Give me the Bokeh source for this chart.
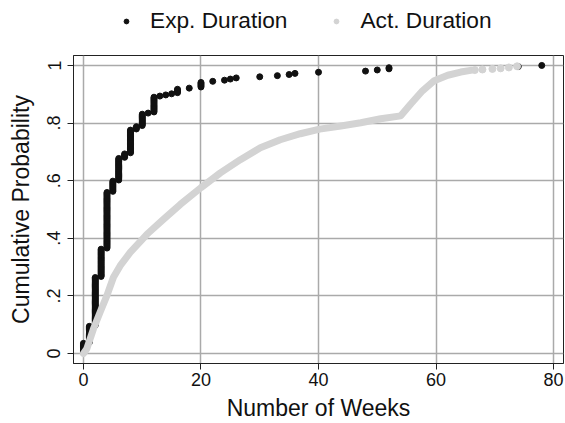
import numpy as np
from bokeh.plotting import figure
from bokeh.layouts import column
from bokeh.models import Range1d, FixedTicker, Legend, LegendItem
from bokeh.embed import file_html
from bokeh.resources import INLINE

# Expected duration: distinct week values and number of observations at each
exp_weeks = [0, 1, 2, 3, 4, 5, 6, 7, 8, 9, 10, 11, 12, 13, 14, 15, 16, 18, 20,
             22, 24, 25, 26, 30, 33, 35, 36, 40, 48, 50, 52, 74, 78]
exp_counts = [9, 15, 43, 25, 50, 10, 20, 4, 21, 3, 11, 1, 14, 1, 1, 1, 4, 1, 5,
              1, 1, 1, 1, 1, 1, 1, 1, 1, 1, 1, 2, 1, 1]

act_weeks = [0.0, 0.57, 1.7, 2.84, 3.98, 5.1, 6.25, 7.95, 10.8, 13.6, 16.5, 20.0,
             23.3, 26.7, 30.1, 33.5, 36.9, 40.2, 43.8, 47.2, 50.6, 54.0, 55.7,
             57.7, 59.7, 62.0, 64.2, 65.9]
act_cdf = [0.0, 0.017, 0.086, 0.144, 0.201, 0.265, 0.305, 0.351, 0.414, 0.466,
           0.518, 0.576, 0.627, 0.673, 0.714, 0.742, 0.763, 0.779, 0.790, 0.801,
           0.815, 0.825, 0.866, 0.912, 0.947, 0.966, 0.977, 0.983]
act_tail_weeks = [66.6, 67.9, 69.6, 71.0, 72.4, 73.8]
act_tail_cdf = [0.984, 0.986, 0.988, 0.990, 0.993, 0.997]

series_labels = ["Exp. Duration", "Act. Duration"]
x_ticks = [0, 20, 40, 60, 80]
y_ticks = [0.0, 0.2, 0.4, 0.6, 0.8, 1.0]
y_tick_labels = ["0", ".2", ".4", ".6", ".8", "1"]

# empirical CDF of the expected durations
exp_x = np.repeat(exp_weeks, exp_counts)
n = len(exp_x)
exp_y = np.arange(1, n + 1) / n

FONT = "Liberation Sans"
BLACK = "#111111"
GRAY = "#d3d3d3"

# ---- legend strip ----
leg = figure(width=565, height=50, x_range=Range1d(0, 1), y_range=Range1d(0, 1),
             x_axis_type=None, y_axis_type=None,
             output_backend="svg", toolbar_location=None, min_border=0)
leg.outline_line_color = None
leg.background_fill_color = "white"
leg.border_fill_color = "white"
# key glyphs (kept outside the visible range; only their legend swatches show)
d1 = leg.scatter([-5], [-5], size=5, color=BLACK)
d2 = leg.scatter([-5], [-5], size=5, color=GRAY)
legend = Legend(items=[LegendItem(label=series_labels[0], renderers=[d1]),
                       LegendItem(label=series_labels[1], renderers=[d2])],
                orientation="horizontal", location=(47, 16),
                border_line_color=None, background_fill_alpha=0,
                padding=0, margin=0, spacing=43, label_standoff=18,
                glyph_width=12, glyph_height=24, label_height=24,
                label_text_font=FONT, label_text_font_size="22.7px",
                label_text_color=BLACK)
leg.add_layout(legend)

# ---- main plot ----
p = figure(width=565, height=373,
           x_range=Range1d(-1.7, 81.7), y_range=Range1d(-0.0345, 1.0345),
           output_backend="svg", toolbar_location=None,
           min_border_left=73, min_border_right=2,
           min_border_top=5, min_border_bottom=58)

p.background_fill_color = "white"
p.border_fill_color = "white"
p.outline_line_color = "#222222"
p.outline_line_width = 1

p.scatter(exp_x, exp_y, size=6, color=BLACK)
p.line(act_weeks, act_cdf, line_width=7, color=GRAY,
       line_cap="round", line_join="round")
p.scatter(act_tail_weeks, act_tail_cdf, size=7, color=GRAY)

p.xaxis.ticker = FixedTicker(ticks=x_ticks)
p.yaxis.ticker = FixedTicker(ticks=y_ticks)
p.yaxis.major_label_overrides = {v: s for v, s in zip(y_ticks, y_tick_labels)}
p.yaxis.major_label_orientation = "vertical"

for ax in (p.xaxis[0], p.yaxis[0]):
    ax.axis_line_color = "#222222"
    ax.major_tick_line_color = "#222222"
    ax.major_tick_out = 6
    ax.major_tick_in = 0
    ax.minor_tick_line_color = None
    ax.major_label_text_font = FONT
    ax.major_label_text_font_size = "18px"
    ax.major_label_text_color = BLACK
    ax.axis_label_text_font = FONT
    ax.axis_label_text_font_size = "23px"
    ax.axis_label_text_font_style = "normal"
    ax.axis_label_text_color = BLACK

p.xaxis.major_label_standoff = 3
p.yaxis.major_label_standoff = 7
p.xaxis.axis_label = "Number of Weeks"
p.yaxis.axis_label = "Cumulative Probability"
p.xaxis.axis_label_standoff = 6
p.yaxis.axis_label_standoff = 11

p.xgrid.grid_line_color = "#aaaaaa"
p.ygrid.grid_line_color = "#aaaaaa"
p.xgrid.grid_line_width = 1.5
p.ygrid.grid_line_width = 1.5

layout = column(leg, p, spacing=0)
open("out.html", "w").write(file_html(layout, INLINE))
